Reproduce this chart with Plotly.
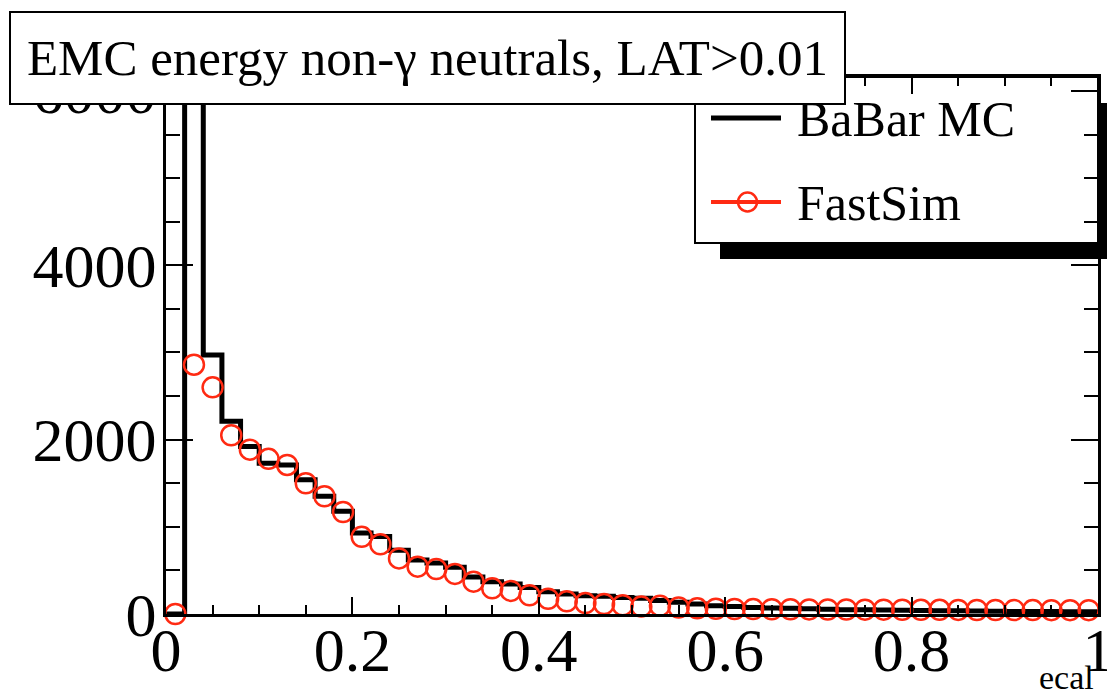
import plotly.graph_objects as go

# ---------------- data ----------------
bin_edges = [0.00, 0.02, 0.04, 0.06, 0.08, 0.10, 0.12, 0.14, 0.16, 0.18,
             0.20, 0.22, 0.24, 0.26, 0.28, 0.30, 0.32, 0.34, 0.36, 0.38,
             0.40, 0.42, 0.44, 0.46, 0.48, 0.50, 0.52, 0.54, 0.56, 0.58,
             0.60, 0.62, 0.64, 0.66, 0.68, 0.70, 0.72, 0.74, 0.76, 0.78,
             0.80, 0.82, 0.84, 0.86, 0.88, 0.90, 0.92, 0.94, 0.96, 0.98, 1.00]

babar_counts = [0, 14000, 2970, 2210, 1920, 1730, 1710, 1540, 1350, 1180,
                930, 890, 730, 620, 585, 535, 425, 370, 345, 305,
                255, 230, 210, 205, 190, 180, 155, 135, 115, 95,
                85, 75, 70, 65, 60, 55, 50, 48, 45, 42,
                40, 38, 36, 34, 32, 30, 30, 28, 27, 26]

fastsim_x = [0.01, 0.03, 0.05, 0.07, 0.09, 0.11, 0.13, 0.15, 0.17, 0.19,
             0.21, 0.23, 0.25, 0.27, 0.29, 0.31, 0.33, 0.35, 0.37, 0.39,
             0.41, 0.43, 0.45, 0.47, 0.49, 0.51, 0.53, 0.55, 0.57, 0.59,
             0.61, 0.63, 0.65, 0.67, 0.69, 0.71, 0.73, 0.75, 0.77, 0.79,
             0.81, 0.83, 0.85, 0.87, 0.89, 0.91, 0.93, 0.95, 0.97, 0.99]

fastsim_counts = [0, 2860, 2600, 2050, 1885, 1780, 1710, 1500, 1350, 1170,
                  885, 800, 638, 543, 515, 460, 371, 294, 265, 215,
                  175, 145, 125, 115, 100, 85, 95, 75, 65, 60,
                  58, 56, 55, 54, 53, 52, 51, 50, 50, 49,
                  48, 48, 47, 46, 46, 45, 45, 44, 44, 44]

x_tick_vals = [0, 0.2, 0.4, 0.6, 0.8, 1.0]
x_tick_text = ["0", "0.2", "0.4", "0.6", "0.8", "1"]
y_tick_vals = [0, 2000, 4000, 6000]
y_tick_text = ["0", "2000", "4000", "6000"]

title_text = "EMC energy non-\u03b3 neutrals, LAT>0.01"
x_title = "ecal"
series_names = ["BaBar MC", "FastSim"]

# ---------------- layout geometry ----------------
W, H = 1107, 698
L, R, T, B = 166, 1098, 77, 614
RED = "#ff2a12"
FONT = "'Liberation Serif', Tinos, 'Times New Roman', 'Nimbus Roman', 'DejaVu Serif', serif"


def px(x):
    return (x - L) / (R - L)


def py(y):
    return (B - y) / (B - T)


fig = go.Figure()
fig.add_trace(go.Scatter(
    x=bin_edges, y=babar_counts + [babar_counts[-1]],
    mode="lines", line=dict(color="black", width=5, shape="hv"),
    name=series_names[0], showlegend=False, cliponaxis=True))
fig.add_trace(go.Scatter(
    x=fastsim_x, y=fastsim_counts, mode="markers",
    marker=dict(symbol="circle-open", size=20, color=RED,
                line=dict(width=2.5, color=RED)),
    name=series_names[1], showlegend=False, cliponaxis=False))

fig.update_layout(
    width=W, height=H,
    margin=dict(l=L, r=W - R, t=T, b=H - B, pad=0, autoexpand=False),
    paper_bgcolor="white", plot_bgcolor="white", showlegend=False,
    font=dict(family=FONT, color="black"),
)
fig.update_xaxes(
    range=[0, 1], tickvals=x_tick_vals, ticktext=x_tick_text,
    ticks="inside", ticklen=17, tickwidth=2, tickcolor="black",
    showline=True, linewidth=3, linecolor="black", mirror="ticks",
    showgrid=False, zeroline=False,
    minor=dict(dtick=0.05, ticklen=9, tickwidth=2, ticks="inside",
               tickcolor="black", showgrid=False),
    tickfont=dict(size=62, family=FONT, color="black"),
    ticklabelstandoff=-20, ticklabeloverflow="allow",
)
fig.update_yaxes(
    range=[0, 6160], tickvals=y_tick_vals, ticktext=y_tick_text,
    ticks="inside", ticklen=27, tickwidth=2, tickcolor="black",
    showline=True, linewidth=3, linecolor="black", mirror="ticks",
    showgrid=False, zeroline=False,
    minor=dict(dtick=500, ticklen=14, tickwidth=2, ticks="inside",
               tickcolor="black", showgrid=False),
    tickfont=dict(size=62, family=FONT, color="black"),
    ticklabelstandoff=-6, ticklabeloverflow="allow",
)

shapes = [
    # legend shadow and box
    dict(type="rect", xref="paper", yref="paper", layer="below",
         x0=px(720), x1=px(1115), y0=py(259), y1=py(103),
         fillcolor="black", line=dict(width=0)),
    dict(type="rect", xref="paper", yref="paper", layer="below",
         x0=px(695), x1=px(1098), y0=py(243), y1=py(77),
         fillcolor="white", line=dict(color="black", width=2)),
    # legend samples
    dict(type="line", xref="paper", yref="paper", layer="above",
         x0=px(711), x1=px(781), y0=py(118), y1=py(118),
         line=dict(color="black", width=5)),
    dict(type="line", xref="paper", yref="paper", layer="above",
         x0=px(711), x1=px(781), y0=py(202), y1=py(202),
         line=dict(color=RED, width=4)),
    dict(type="circle", xref="paper", yref="paper", layer="above",
         x0=px(738), x1=px(757), y0=py(211.5), y1=py(192.5),
         line=dict(color=RED, width=2.5)),
]
fig.update_layout(shapes=shapes)

annotations = [
    dict(text=series_names[0], xref="paper", yref="paper",
         x=px(795), y=py(119), xanchor="left", yanchor="middle",
         showarrow=False, font=dict(size=50, family=FONT, color="black")),
    dict(text=series_names[1], xref="paper", yref="paper",
         x=px(795), y=py(203), xanchor="left", yanchor="middle",
         showarrow=False, font=dict(size=50, family=FONT, color="black")),
    dict(text=x_title, xref="paper", yref="paper",
         x=px(1096), y=py(698), xanchor="right", yanchor="bottom",
         showarrow=False, font=dict(size=34, family=FONT, color="black")),
    dict(text=title_text, xref="paper", yref="paper",
         x=px(9), y=py(11), xanchor="left", yanchor="top",
         width=833, height=90, align="center", valign="middle",
         bgcolor="white", bordercolor="black", borderwidth=2, borderpad=0,
         showarrow=False, font=dict(size=51, family=FONT, color="black")),
]
fig.update_layout(annotations=annotations)

fig.write_html("out.html")
